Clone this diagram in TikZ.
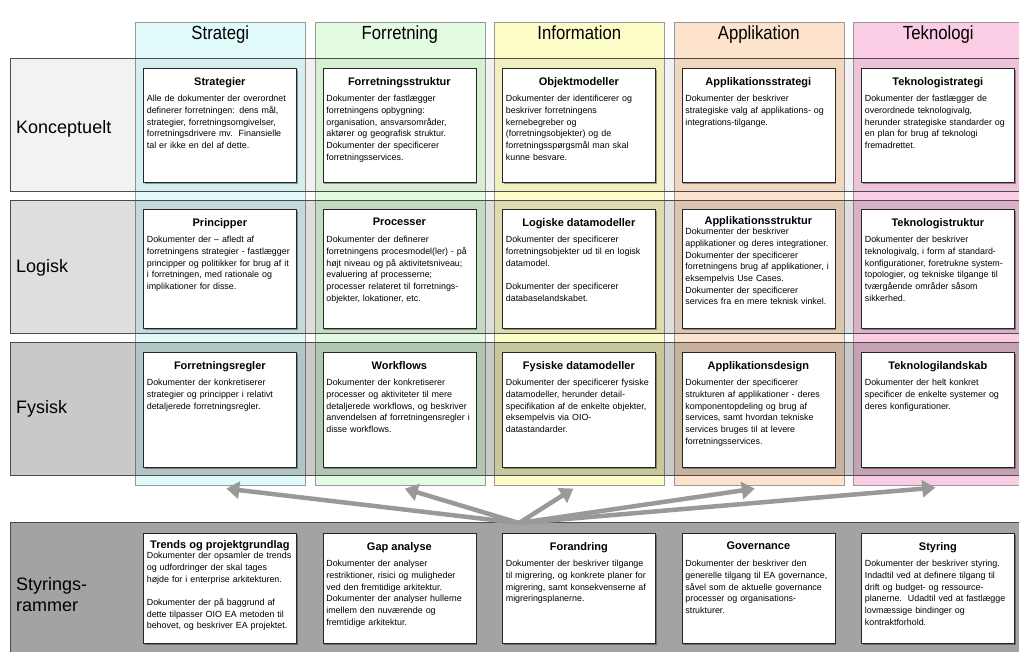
\documentclass[tikz,border=0pt]{standalone}
\usepackage{fontspec}
\setmainfont{Liberation Sans}
\newfontfamily\headfont[FakeStretch=0.88]{Liberation Sans}
\usetikzlibrary{arrows.meta,shadows}

\definecolor{strategifill}{HTML}{E1FBFB}
\definecolor{forretningfill}{HTML}{E3FBE1}
\definecolor{informationfill}{HTML}{FDFDC9}
\definecolor{applikationfill}{HTML}{FDE3CB}
\definecolor{teknologifill}{HTML}{FBCDE5}

\begin{document}
\begin{tikzpicture}[x=1pt,y=-1pt]
    \tikzstyle{column} = [draw=black!40,line width=.6pt,anchor=north west,
                          minimum width=170pt,minimum height=463pt,inner sep=0pt]
    \tikzstyle{colhead} = [font=\headfont\fontsize{19}{21}\selectfont,
                           anchor=base,yshift=-17pt,inner sep=0pt]
    \tikzstyle{layer} = [draw=black!70,fill=black,line width=.8pt]
    \tikzstyle{rowhead} = [font=\fontsize{18}{21}\selectfont,anchor=west,
                           align=left,inner sep=0pt]
    \tikzstyle{docbox} = [draw=black!85,fill=white,line width=.7pt,
                          anchor=north west,minimum width=153pt,inner sep=0pt,
                          drop shadow={shadow xshift=1.2pt,shadow yshift=-1.2pt,
                                       fill=black,opacity=.35}]
    \tikzstyle{doctitle} = [anchor=north,yshift=-9pt,inner sep=0pt,
                            font=\fontsize{11}{13}\selectfont\bfseries]
    \tikzstyle{docbody} = [anchor=north,yshift=-27pt,inner sep=0pt,
                           text width=146pt,align=left,
                           font=\fontsize{8.9}{11.7}\selectfont]
    \tikzstyle{bigarrow} = [draw=black!40,line width=4.5pt,
                            -{Triangle[length=13pt,width=17pt,fill=black!40]}]

    \useasboundingbox (0,0) rectangle (1019,651);

    % the five columns
    \node[column,fill=strategifill] (strategi) at (135,22) {};
    \node[column,fill=forretningfill] (forretning) at (314.5,22) {};
    \node[column,fill=informationfill] (information) at (494,22) {};
    \node[column,fill=applikationfill] (applikation) at (673.5,22) {};
    \node[column,fill=teknologifill] (teknologi) at (853,22) {};
    \node[colhead] (strategi-h) at (strategi.north) {Strategi};
    \node[colhead] (forretning-h) at (forretning.north) {Forretning};
    \node[colhead] (information-h) at (information.north) {Information};
    \node[colhead] (applikation-h) at (applikation.north) {Applikation};
    \node[colhead] (teknologi-h) at (teknologi.north) {Teknologi};

    % the four layers
    \filldraw[layer,fill opacity=.05] (10,58) rectangle (1030,191);
    \filldraw[layer,fill opacity=.13] (10,200) rectangle (1030,333);
    \filldraw[layer,fill opacity=.21] (10,342) rectangle (1030,475);
    \filldraw[layer,fill opacity=.36] (10,522) rectangle (1030,660);
    \node[rowhead] (konceptuelt) at (16,129) {Konceptuelt};
    \node[rowhead] (logisk) at (16,268) {Logisk};
    \node[rowhead] (fysisk) at (16,409) {Fysisk};
    \node[rowhead] (styringsrammer) at (16,595) {Styrings-\\rammer};

    % Konceptuelt
    \node[docbox,minimum height=114pt] (strategier) at (143,68) {};
    \node[doctitle] (strategier-t) at (strategier.north) {Strategier};
    \node[docbody] (strategier-b) at (strategier.north)
        {Alle de dokumenter der overordnet\\definerer forretningen: dens mål,\\
         strategier, forretningsomgivelser,\\forretningsdrivere mv.\ \ Finansielle\\
         tal er ikke en del af dette.};
    \node[docbox,minimum height=114pt] (forstruktur) at (322.5,68) {};
    \node[doctitle] (forstruktur-t) at (forstruktur.north) {Forretningsstruktur};
    \node[docbody] (forstruktur-b) at (forstruktur.north)
        {Dokumenter der fastlægger\\forretningens opbygning:\\
         organisation, ansvarsområder,\\aktører og geografisk struktur.\\
         Dokumenter der specificerer\\forretningsservices.};
    \node[docbox,minimum height=114pt] (objekt) at (502,68) {};
    \node[doctitle] (objekt-t) at (objekt.north) {Objektmodeller};
    \node[docbody] (objekt-b) at (objekt.north)
        {Dokumenter der identificerer og\\beskriver forretningens\\
         kernebegreber og\\(forretningsobjekter) og de\\
         forretningsspørgsmål man skal\\kunne besvare.};
    \node[docbox,minimum height=114pt] (appstrategi) at (681.5,68) {};
    \node[doctitle] (appstrategi-t) at (appstrategi.north) {Applikationsstrategi};
    \node[docbody] (appstrategi-b) at (appstrategi.north)
        {Dokumenter der beskriver\\strategiske valg af applikations- og\\
         integrations-tilgange.};
    \node[docbox,minimum height=114pt] (tekstrategi) at (861,68) {};
    \node[doctitle] (tekstrategi-t) at (tekstrategi.north) {Teknologistrategi};
    \node[docbody] (tekstrategi-b) at (tekstrategi.north)
        {Dokumenter der fastlægger de\\overordnede teknologivalg,\\
         herunder strategiske standarder og\\en plan for brug af teknologi\\
         fremadrettet.};

    % Logisk
    \node[docbox,minimum height=119pt] (principper) at (143,209) {};
    \node[doctitle] (principper-t) at (principper.north) {Principper};
    \node[docbody] (principper-b) at (principper.north)
        {Dokumenter der – afledt af\\forretningens strategier - fastlægger\\
         principper og politikker for brug af it\\i forretningen, med rationale og\\
         implikationer for disse.};
    \node[docbox,minimum height=119pt] (processer) at (322.5,209) {};
    \node[doctitle] (processer-t) at (processer.north) {Processer};
    \node[docbody] (processer-b) at (processer.north)
        {Dokumenter der definerer\\forretningens procesmodel(ler) - på\\
         højt niveau og på aktivitetsniveau;\\evaluering af processerne;\\
         processer relateret til forretnings-\\objekter, lokationer, etc.};
    \node[docbox,minimum height=119pt] (logdata) at (502,209) {};
    \node[doctitle] (logdata-t) at (logdata.north) {Logiske datamodeller};
    \node[docbody] (logdata-b) at (logdata.north)
        {Dokumenter der specificerer\\forretningsobjekter ud til en logisk\\
         datamodel.\\[11.7pt]Dokumenter der specificerer\\databaselandskabet.};
    \node[docbox,minimum height=119pt] (appstruktur) at (681.5,209) {};
    \node[doctitle,yshift=2pt] (appstruktur-t) at (appstruktur.north) {Applikationsstruktur};
    \node[docbody,yshift=8pt] (appstruktur-b) at (appstruktur.north)
        {Dokumenter der beskriver\\applikationer og deres integrationer.\\
         Dokumenter der specificerer\\forretningens brug af applikationer, i\\
         eksempelvis Use Cases.\\Dokumenter der specificerer\\
         services fra en mere teknisk vinkel.};
    \node[docbox,minimum height=119pt] (tekstruktur) at (861,209) {};
    \node[doctitle] (tekstruktur-t) at (tekstruktur.north) {Teknologistruktur};
    \node[docbody] (tekstruktur-b) at (tekstruktur.north)
        {Dokumenter der beskriver\\teknologivalg, i form af standard-\\
         konfigurationer, foretrukne system-\\topologier, og tekniske tilgange til\\
         tværgående områder såsom\\sikkerhed.};

    % Fysisk
    \node[docbox,minimum height=115pt] (regler) at (143,352) {};
    \node[doctitle] (regler-t) at (regler.north) {Forretningsregler};
    \node[docbody] (regler-b) at (regler.north)
        {Dokumenter der konkretiserer\\strategier og principper i relativt\\
         detaljerede forretningsregler.};
    \node[docbox,minimum height=115pt] (workflows) at (322.5,352) {};
    \node[doctitle] (workflows-t) at (workflows.north) {Workflows};
    \node[docbody] (workflows-b) at (workflows.north)
        {Dokumenter der konkretiserer\\processer og aktiviteter til mere\\
         detaljerede workflows, og beskriver\\anvendelsen af forretningensregler i\\
         disse workflows.};
    \node[docbox,minimum height=115pt] (fysdata) at (502,352) {};
    \node[doctitle] (fysdata-t) at (fysdata.north) {Fysiske datamodeller};
    \node[docbody] (fysdata-b) at (fysdata.north)
        {Dokumenter der specificerer fysiske\\datamodeller, herunder detail-\\
         specifikation af de enkelte objekter,\\eksempelvis via OIO-\\
         datastandarder.};
    \node[docbox,minimum height=115pt] (appdesign) at (681.5,352) {};
    \node[doctitle] (appdesign-t) at (appdesign.north) {Applikationsdesign};
    \node[docbody] (appdesign-b) at (appdesign.north)
        {Dokumenter der specificerer\\strukturen af applikationer - deres\\
         komponentopdeling og brug af\\services, samt hvordan tekniske\\
         services bruges til at levere\\forretningsservices.};
    \node[docbox,minimum height=115pt] (teklandskab) at (861,352) {};
    \node[doctitle] (teklandskab-t) at (teklandskab.north) {Teknologilandskab};
    \node[docbody] (teklandskab-b) at (teklandskab.north)
        {Dokumenter der helt konkret\\specificer de enkelte systemer og\\
         deres konfigurationer.};

    % Styringsrammer
    \node[docbox,minimum height=110pt] (trends) at (143,533) {};
    \node[doctitle,yshift=2pt] (trends-t) at (trends.north) {Trends og projektgrundlag};
    \node[docbody,yshift=8pt] (trends-b) at (trends.north)
        {Dokumenter der opsamler de trends\\og udfordringer der skal tages\\
         højde for i enterprise arkitekturen.\\[11.7pt]Dokumenter der på baggrund af\\
         dette tilpasser OIO EA metoden til\\behovet, og beskriver EA projektet.};
    \node[docbox,minimum height=110pt] (gap) at (322.5,533) {};
    \node[doctitle] (gap-t) at (gap.north) {Gap analyse};
    \node[docbody] (gap-b) at (gap.north)
        {Dokumenter der analyser\\restriktioner, risici og muligheder\\
         ved den fremtidige arkitektur.\\Dokumenter der analyser hullerne\\
         imellem den nuværende og\\fremtidige arkitektur.};
    \node[docbox,minimum height=110pt] (forandring) at (502,533) {};
    \node[doctitle] (forandring-t) at (forandring.north) {Forandring};
    \node[docbody] (forandring-b) at (forandring.north)
        {Dokumenter der beskriver tilgange\\til migrering, og konkrete planer for\\
         migrering, samt konsekvenserne af\\migreringsplanerne.};
    \node[docbox,minimum height=110pt] (governance) at (681.5,533) {};
    \node[doctitle] (governance-t) at (governance.north) {Governance};
    \node[docbody] (governance-b) at (governance.north)
        {Dokumenter der beskriver den\\generelle tilgang til EA governance,\\
         såvel som de aktuelle governance\\processer og organisations-\\
         strukturer.};
    \node[docbox,minimum height=110pt] (styring) at (861,533) {};
    \node[doctitle] (styring-t) at (styring.north) {Styring};
    \node[docbody] (styring-b) at (styring.north)
        {Dokumenter der beskriver styring.\\Indadtil ved at definere tilgang til\\
         drift og budget- og ressource-\\planerne.\ \ Udadtil ved at fastlægge\\
         lovmæssige bindinger og\\kontraktforhold.};

    % arrows from the governance layer up to the columns
    \coordinate (hub) at (519,523);
    \draw[bigarrow] (hub) -- ([xshift=6pt,yshift=-3pt]strategi.south);
    \draw[bigarrow] (hub) -- ([xshift=5pt,yshift=-3pt]forretning.south);
    \draw[bigarrow] (hub) -- ([xshift=-6pt,yshift=-3pt]information.south);
    \draw[bigarrow] (hub) -- ([xshift=-4pt,yshift=-3pt]applikation.south);
    \draw[bigarrow] (hub) -- ([xshift=-3pt,yshift=-2pt]teknologi.south);
\end{tikzpicture}
\end{document}
